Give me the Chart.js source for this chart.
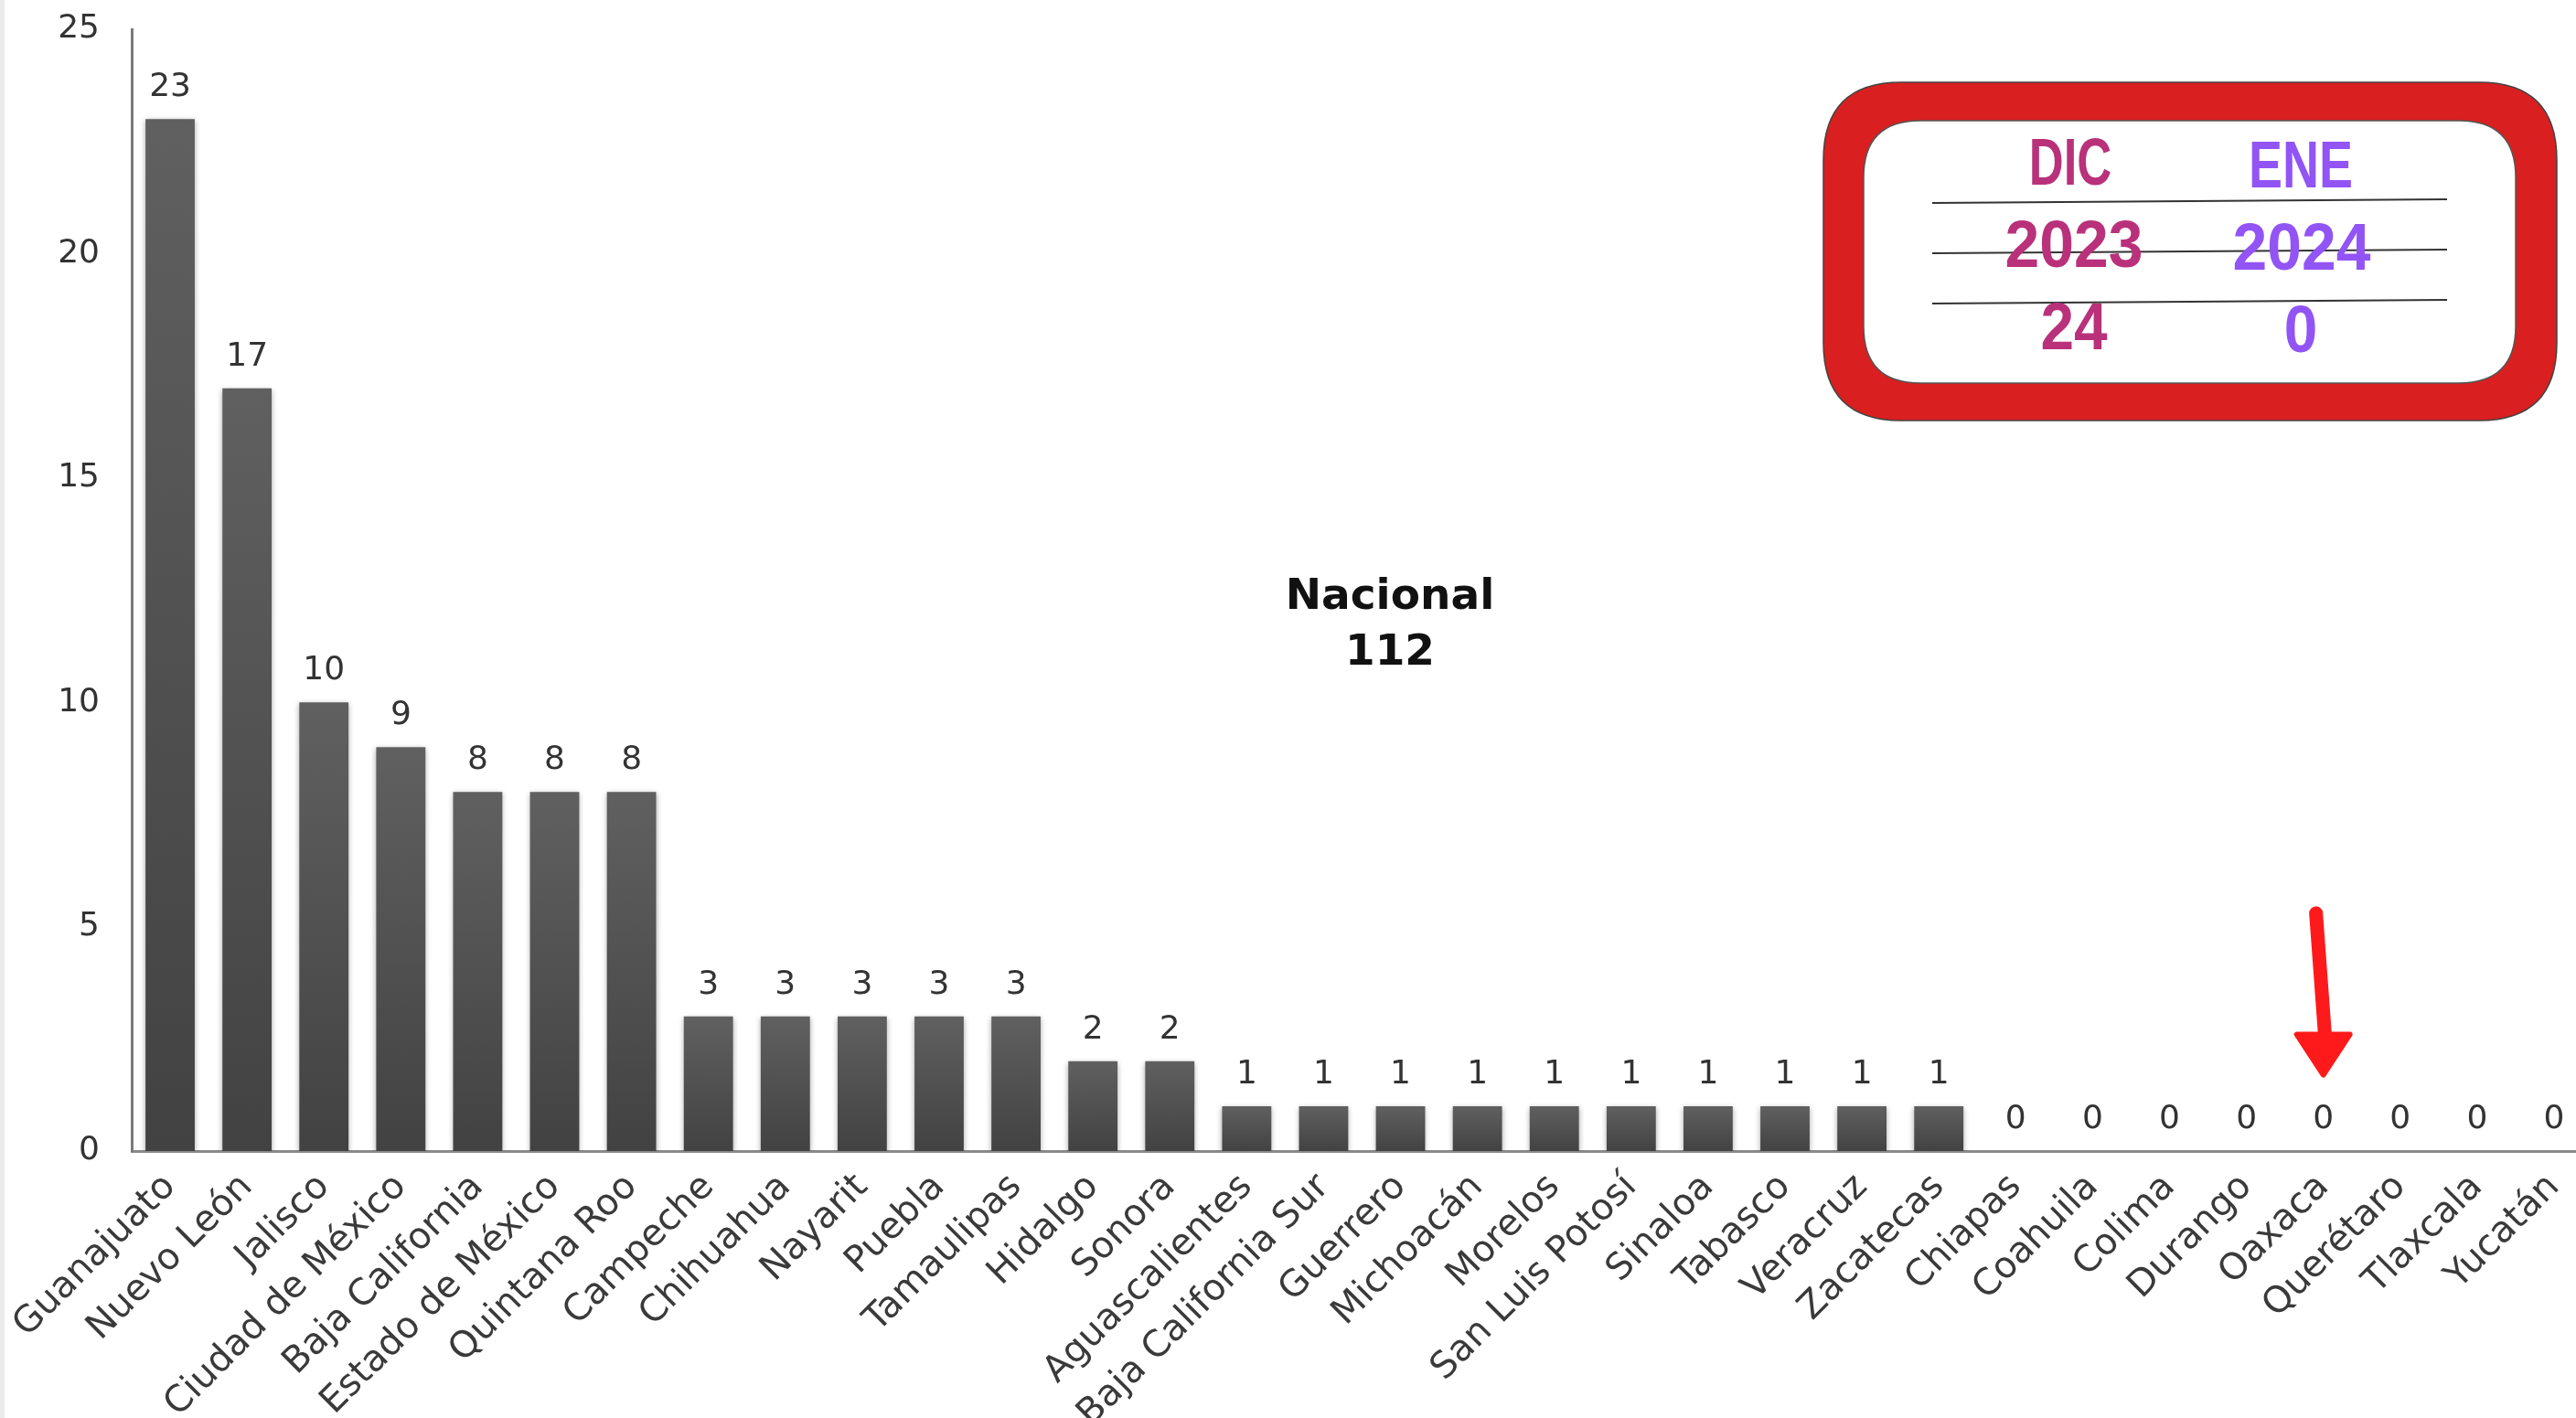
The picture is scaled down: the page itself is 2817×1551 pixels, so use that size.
<!DOCTYPE html>
<html>
<head>
<meta charset="utf-8">
<script src="https://cdn.jsdelivr.net/npm/chart.js@4"></script>
<style>
  html, body { margin:0; padding:0; background:#fff; overflow:hidden; }
  #wrap { position:absolute; left:0; top:0; width:2840px; height:1551px; }
  #edge { position:absolute; left:0; top:0; width:5px; height:1551px; background:#ebebeb; }
</style>
</head>
<body>
<div id="wrap"><canvas id="c" width="2840" height="1551"></canvas></div>
<div id="edge"></div>
<script>
// datos por entidad
const states = ['Guanajuato','Nuevo León','Jalisco','Ciudad de México','Baja California','Estado de México','Quintana Roo',
  'Campeche','Chihuahua','Nayarit','Puebla','Tamaulipas','Hidalgo','Sonora','Aguascalientes','Baja California Sur',
  'Guerrero','Michoacán','Morelos','San Luis Potosí','Sinaloa','Tabasco','Veracruz','Zacatecas',
  'Chiapas','Coahuila','Colima','Durango','Oaxaca','Querétaro','Tlaxcala','Yucatán'];
const counts = [23,17,10,9,8,8,8,3,3,3,3,3,2,2,1,1,1,1,1,1,1,1,1,1,0,0,0,0,0,0,0,0];
const yTicks = [0,5,10,15,20,25];

const totalLabel = ['Nacional','112'];
const boxHeads = ['DIC','ENE'];
const boxYears = ['2023','2024'];
const boxVals = ['24','0'];
const arrowState = 'Oaxaca';

const C_DIC = '#b9317b', C_ENE = '#9254f5';

function roundRect(ctx, x, y, w, h, r) {
  ctx.beginPath();
  ctx.moveTo(x + r, y);
  ctx.lineTo(x + w - r, y); ctx.quadraticCurveTo(x + w, y, x + w, y + r);
  ctx.lineTo(x + w, y + h - r); ctx.quadraticCurveTo(x + w, y + h, x + w - r, y + h);
  ctx.lineTo(x + r, y + h); ctx.quadraticCurveTo(x, y + h, x, y + h - r);
  ctx.lineTo(x, y + r); ctx.quadraticCurveTo(x, y, x + r, y);
  ctx.closePath();
}

function squeezeText(ctx, txt, x, y, sx, color) {
  ctx.save();
  ctx.translate(x, y);
  ctx.scale(sx, 1);
  ctx.fillStyle = color;
  ctx.fillText(txt, 0, 0);
  ctx.restore();
}

const decor = {
  id: 'decor',
  beforeDatasetsDraw(chart) {
    const ctx = chart.ctx;
    ctx.save();
    ctx.shadowColor = 'rgba(0,0,0,0.35)';
    ctx.shadowBlur = 6;
    ctx.shadowOffsetY = 2;
  },
  afterDatasetsDraw(chart) {
    const ctx = chart.ctx;
    ctx.restore();
    // etiquetas de valor
    const meta = chart.getDatasetMeta(0);
    ctx.save();
    ctx.font = '36px "DejaVu Sans"';
    ctx.fillStyle = '#333';
    ctx.textAlign = 'center';
    ctx.textBaseline = 'alphabetic';
    meta.data.forEach((bar, i) => {
      ctx.fillText(String(counts[i]), bar.x, bar.y - 25);
    });
    ctx.restore();
  },
  afterDraw(chart) {
    const ctx = chart.ctx;
    const xs = chart.scales.x, ys = chart.scales.y;
    ctx.save();

    // total nacional
    ctx.font = 'bold 47px "DejaVu Sans"';
    ctx.fillStyle = '#111';
    ctx.textAlign = 'center';
    ctx.textBaseline = 'middle';
    ctx.fillText(totalLabel[0], 1520, 654);
    ctx.fillText(totalLabel[1], 1520, 715);

    // cuadro DIC / ENE
    roundRect(ctx, 1994, 90, 802, 370, 85);
    ctx.fillStyle = '#d91f20';
    ctx.fill();
    ctx.lineWidth = 1.5; ctx.strokeStyle = '#444'; ctx.stroke();
    roundRect(ctx, 2038, 132, 713, 287, 62);
    ctx.fillStyle = '#fff';
    ctx.fill();
    ctx.lineWidth = 1.5; ctx.strokeStyle = '#555'; ctx.stroke();

    ctx.strokeStyle = '#333';
    ctx.lineWidth = 2;
    [[222,218],[277,273],[332,328]].forEach(([a,b]) => {
      ctx.beginPath(); ctx.moveTo(2113, a); ctx.lineTo(2676, b); ctx.stroke();
    });

    ctx.font = 'bold 73px "Liberation Sans Narrow", "Liberation Sans"';
    ctx.textAlign = 'center';
    ctx.textBaseline = 'middle';
    squeezeText(ctx, boxHeads[0], 2264, 182, 0.72, C_DIC);
    squeezeText(ctx, boxHeads[1], 2516, 185, 0.76, C_ENE);
    squeezeText(ctx, boxYears[0], 2268, 272, 0.93, C_DIC);
    squeezeText(ctx, boxYears[1], 2517, 275, 0.93, C_ENE);
    squeezeText(ctx, boxVals[0], 2268, 362, 0.9, C_DIC);
    squeezeText(ctx, boxVals[1], 2516, 365, 0.9, C_ENE);

    // flecha roja sobre Oaxaca
    const ax = xs.getPixelForValue(states.indexOf(arrowState));
    const yTop = ys.getPixelForValue(5.3), yHead = ys.getPixelForValue(2.6), yTip = ys.getPixelForValue(1.7);
    ctx.strokeStyle = '#fe1a1a';
    ctx.fillStyle = '#fe1a1a';
    ctx.lineWidth = 15;
    ctx.lineCap = 'round';
    ctx.beginPath(); ctx.moveTo(ax - 8, yTop); ctx.lineTo(ax + 2, yHead + 4); ctx.stroke();
    ctx.lineJoin = 'round';
    ctx.lineWidth = 6;
    ctx.beginPath();
    ctx.moveTo(ax - 29, yHead); ctx.lineTo(ax + 29, yHead); ctx.lineTo(ax, yTip);
    ctx.closePath(); ctx.fill(); ctx.stroke();

    ctx.restore();
  }
};

function barFill(c) {
  const chart = c.chart;
  const ys = chart.scales.y;
  if (!ys || c.raw == null || !chart.chartArea) return '#505050';
  const top = ys.getPixelForValue(c.raw), bot = ys.getPixelForValue(0);
  if (!isFinite(top) || !isFinite(bot) || bot - top < 1) return '#505050';
  const g = chart.ctx.createLinearGradient(0, top, 0, bot);
  g.addColorStop(0, '#606060');
  g.addColorStop(1, '#424242');
  return g;
}

new Chart(document.getElementById('c'), {
  type: 'bar',
  data: {
    labels: states,
    datasets: [{ data: counts, backgroundColor: barFill, borderWidth: 0, barPercentage: 0.64, categoryPercentage: 1 }]
  },
  options: {
    responsive: false,
    devicePixelRatio: 1,
    animation: false,
    layout: { padding: { top: 32, right: 5, left: 0, bottom: 0 } },
    plugins: { legend: { display: false }, tooltip: { enabled: false } },
    scales: {
      x: {
        grid: { display: false },
        border: { display: true, color: '#8a8a8a', width: 3 },
        ticks: {
          autoSkip: false, maxRotation: 45, minRotation: 45,
          font: { family: 'DejaVu Sans', size: 40 }, color: '#3a3a3a', padding: 8
        },
        afterFit: s => { s.height = 292; s.paddingTop = 0; s.paddingRight = 0; }
      },
      y: {
        min: 0, max: 25,
        grid: { display: false, drawTicks: false },
        border: { display: true, color: '#7a7a7a', width: 3 },
        afterBuildTicks: s => { s.ticks = yTicks.map(v => ({ value: v })); },
        ticks: { font: { family: 'DejaVu Sans', size: 36 }, color: '#333', padding: 35 },
        afterFit: s => { s.width = 144; s.paddingTop = 0; s.paddingBottom = 0; }
      }
    }
  },
  plugins: [decor]
});
</script>
</body>
</html>
